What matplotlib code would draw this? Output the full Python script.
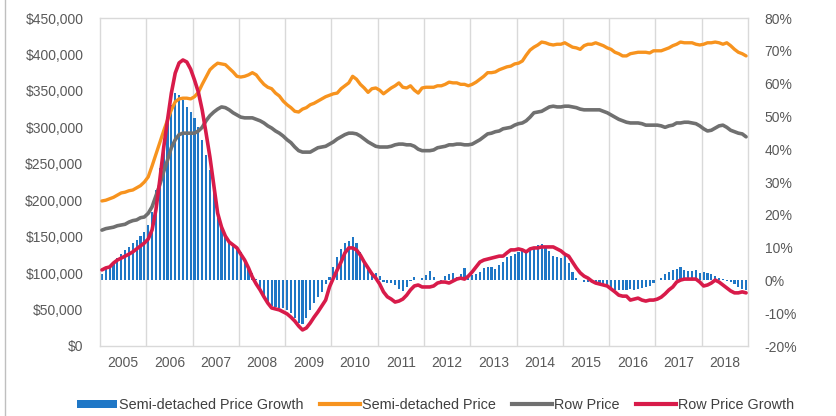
import matplotlib
matplotlib.use("Agg")
import matplotlib.pyplot as plt
from matplotlib.ticker import FuncFormatter, FixedLocator
from matplotlib.lines import Line2D
from matplotlib.patches import Patch

plt.rcParams['font.family'] = ['Liberation Sans', 'DejaVu Sans']

years = ['2005', '2006', '2007', '2008', '2009', '2010', '2011',
         '2012', '2013', '2014', '2015', '2016', '2017', '2018']

# Semi-detached price (thousands of $), monthly
semi_price_k = [
    199, 200, 202, 204, 207, 210, 211, 213, 214, 217, 220, 225,
    232, 247, 263, 279, 295, 310, 324, 335, 339, 340, 340, 339,
    342, 348, 359, 369, 379, 384, 388, 387, 386, 381, 376, 370,
    369, 370, 372, 375, 372, 365, 359, 355, 353, 347, 343, 336,
    331, 327, 322, 321, 325, 327, 331, 333, 336, 339, 342, 344,
    346, 347, 353, 357, 361, 370, 366, 359, 354, 348, 353, 354,
    351, 346, 350, 354, 357, 361, 355, 354, 357, 351, 347, 354,
    355, 355, 355, 357, 357, 359, 362, 361, 361, 359, 359, 357,
    359, 362, 366, 370, 375, 375, 376, 379, 381, 383, 384, 387,
    388, 391, 399, 406, 410, 413, 417, 416, 414, 413, 414, 414,
    416, 413, 410, 409, 407, 412, 414, 414, 416, 414, 412, 409,
    407, 403, 401, 398, 398, 401, 402, 403, 403, 403, 402, 405,
    405, 405, 407, 409, 412, 414, 417, 416, 416, 416, 414, 413,
    414, 416, 416, 417, 416, 414, 416, 412, 407, 403, 401, 398,
]

# Row price (thousands of $), monthly
row_price_k = [
    159, 161, 162, 163, 165, 166, 167, 170, 172, 173, 176, 177,
    182, 191, 206, 221, 239, 255, 272, 283, 290, 292, 292, 292,
    292, 295, 300, 309, 316, 321, 325, 328, 327, 324, 320, 317,
    314, 313, 313, 313, 311, 309, 306, 302, 299, 295, 292, 288,
    283, 279, 273, 268, 266, 266, 266, 269, 272, 273, 274, 277,
    280, 284, 287, 290, 292, 292, 291, 288, 284, 280, 277, 274,
    273, 273, 273, 274, 276, 277, 277, 276, 276, 274, 270, 268,
    268, 268, 269, 272, 273, 274, 276, 276, 277, 277, 276, 276,
    277, 280, 283, 287, 291, 292, 294, 295, 298, 299, 300, 303,
    305, 306, 309, 314, 320, 321, 322, 325, 328, 329, 328, 328,
    329, 329, 328, 327, 325, 324, 324, 324, 324, 324, 322, 320,
    317, 314, 311, 309, 307, 306, 306, 306, 305, 303, 303, 303,
    303, 302, 300, 302, 303, 306, 306, 307, 307, 306, 305, 302,
    298, 295, 296, 299, 302, 303, 300, 296, 294, 292, 291, 287,
]

# Row price growth (%), monthly
row_growth = [
    3.2, 3.8, 4.1, 5.3, 6.2, 6.8, 7.4, 8.0, 8.7, 9.6, 10.5, 11.4,
    12.6, 15.4, 21.5, 30.6, 40.4, 48.9, 57.1, 63.2, 66.3, 67.2, 66.6, 64.4,
    61.1, 57.4, 51.9, 44.9, 37.6, 29.1, 20.5, 16.3, 13.5, 11.7, 10.8, 9.9,
    8.0, 6.2, 3.8, 1.0, -1.1, -2.9, -5.0, -6.9, -8.4, -8.7, -9.0, -9.6,
    -10.2, -11.2, -12.4, -13.9, -15.1, -14.5, -13.0, -11.2, -9.6, -7.8, -6.0, -2.0,
    0.7, 3.2, 5.6, 8.4, 9.9, 9.9, 9.3, 7.7, 5.6, 3.8, 2.0, 0.7,
    -1.1, -3.5, -5.0, -5.7, -6.6, -6.3, -5.7, -4.5, -2.9, -1.7, -1.4, -2.0,
    -2.0, -2.0, -1.7, -0.8, -0.5, -0.5, -0.8, -0.2, 0.4, 0.7, 0.4, 1.3,
    2.6, 4.1, 5.6, 6.2, 6.5, 6.8, 7.1, 7.4, 7.4, 8.4, 9.3, 9.3,
    9.6, 9.3, 8.7, 9.6, 9.9, 9.9, 10.2, 10.2, 10.2, 10.2, 9.6, 9.0,
    8.0, 7.4, 5.6, 3.8, 2.3, 1.3, 0.7, -0.2, -0.8, -1.1, -1.4, -1.7,
    -2.6, -3.5, -4.5, -4.8, -4.8, -6.0, -5.7, -5.4, -6.0, -6.3, -6.0, -6.0,
    -5.7, -5.1, -4.1, -2.9, -2.0, -0.5, 0.1, 0.4, 0.4, 0.4, 0.4, -0.5,
    -1.7, -1.4, -0.8, 0.1, -0.5, -1.4, -2.3, -3.2, -3.8, -3.8, -3.5, -3.8,
]

# Semi-detached price growth (%), monthly
semi_growth = [
    2.0, 3.8, 4.7, 5.6, 6.8, 8.0, 9.3, 10.2, 11.4, 12.3, 13.5, 14.8,
    16.9, 20.9, 27.6, 34.3, 41.3, 48.3, 53.5, 57.1, 56.5, 55.0, 52.9, 51.3,
    49.5, 46.8, 42.8, 38.2, 33.7, 27.6, 19.0, 16.0, 13.8, 12.3, 11.1, 10.2,
    8.7, 6.2, 4.1, 2.3, 0.4, -2.9, -5.4, -7.5, -7.8, -8.1, -8.4, -8.4,
    -9.0, -9.9, -11.5, -13.0, -13.3, -11.5, -9.0, -6.9, -5.1, -3.5, -1.1, 1.0,
    4.1, 7.1, 9.6, 11.4, 12.0, 13.2, 11.4, 8.7, 5.6, 3.2, 2.6, 2.3,
    1.3, -0.5, -0.8, -0.8, -1.4, -2.6, -3.2, -2.0, -0.2, 1.0, 0.1, 0.7,
    1.6, 2.9, 1.0, 0.1, -0.5, 1.3, 2.0, 2.3, 1.0, 2.0, 3.8, 1.3,
    1.6, 2.0, 2.6, 3.8, 4.1, 4.1, 3.5, 4.7, 5.6, 7.1, 7.4, 8.0,
    8.7, 9.3, 8.7, 9.6, 10.2, 10.8, 11.1, 10.5, 9.0, 7.4, 7.1, 6.8,
    7.4, 5.3, 2.6, 0.7, 0.1, -0.5, -0.5, -0.5, -0.8, -0.8, -1.1, -1.7,
    -2.3, -2.9, -2.9, -2.9, -2.9, -2.6, -2.9, -2.6, -2.3, -2.0, -1.7, -0.8,
    0.1, 0.7, 2.0, 2.6, 3.2, 3.5, 4.1, 3.2, 2.9, 2.9, 3.2, 2.3,
    2.6, 2.3, 2.0, 1.3, 0.7, 0.4, -0.2, -0.5, -1.1, -2.0, -2.6, -2.9,
]

semi_price = [v * 1000 for v in semi_price_k]
row_price = [v * 1000 for v in row_price_k]
months = list(range(len(semi_price)))

C_BLUE = '#1f77c6'
C_ORANGE = '#f7931e'
C_GRAY = '#707070'
C_RED = '#d81b4a'
C_TEXT = '#595959'
C_GRID = '#d9d9d9'

fig = plt.figure(figsize=(8.36, 4.16), dpi=100)
rect = [100 / 836, 1 - 346 / 416, 648 / 836, 328 / 416]

axb = fig.add_axes(rect)                     # bars (right % axis)
axp = fig.add_axes(rect, sharex=axb)         # prices (left axis)
axr = fig.add_axes(rect, sharex=axb, sharey=axb)  # red growth line

axb.set_zorder(1)
axp.set_zorder(2)
axr.set_zorder(3)
axp.patch.set_visible(False)
axr.patch.set_visible(False)

axb.bar(months, semi_growth, width=0.55, color=C_BLUE, linewidth=0)
axp.plot(months, semi_price, color=C_ORANGE, lw=2.4, solid_capstyle='round')
axp.plot(months, row_price, color=C_GRAY, lw=2.6, solid_capstyle='round')
axr.plot(months, row_growth, color=C_RED, lw=2.6, solid_capstyle='round')

n = len(months)
axb.set_xlim(-0.5, n - 0.5)
axb.set_ylim(-20, 80)
axp.set_ylim(0, 450000)

# year gridlines
for k in range(1, len(years)):
    axb.axvline(12 * k - 0.5, color=C_GRID, lw=1, zorder=0)

axb.xaxis.set_major_locator(FixedLocator([12 * k + 5.5 for k in range(len(years))]))
axb.set_xticklabels(years)
axb.yaxis.tick_right()
axb.set_yticks(range(-20, 81, 10))
axb.yaxis.set_major_formatter(FuncFormatter(lambda v, p: f"{int(v)}%"))
axp.set_yticks(range(0, 450001, 50000))
axp.yaxis.set_major_formatter(FuncFormatter(lambda v, p: f"${int(v):,}"))

for a in (axb, axp):
    a.tick_params(axis='both', length=0, labelsize=10, labelcolor=C_TEXT)
axb.tick_params(axis='y', pad=12)
axp.tick_params(axis='y', pad=12)
axb.tick_params(axis='x', pad=7)
axp.tick_params(axis='x', labelbottom=False)
axr.tick_params(left=False, right=False, bottom=False, labelleft=False,
                labelbottom=False, labelright=False)

for a in (axb, axp, axr):
    for s in a.spines.values():
        s.set_visible(False)
for s in axb.spines.values():
    s.set_visible(True)
    s.set_color(C_GRID)
    s.set_linewidth(1)

handles = [
    Patch(facecolor=C_BLUE, edgecolor='none'),
    Line2D([], [], color=C_ORANGE, lw=3),
    Line2D([], [], color=C_GRAY, lw=3),
    Line2D([], [], color=C_RED, lw=3),
]
labels = ['Semi-detached Price Growth', 'Semi-detached Price', 'Row Price', 'Row Price Growth']
leg = fig.legend(handles, labels, loc='center', bbox_to_anchor=(435.5 / 836, 1 - 405 / 416),
                 ncol=4, frameon=False, fontsize=10.4, handlelength=2.75,
                 handleheight=0.5, handletextpad=0.15, columnspacing=1.15,
                 borderpad=0, borderaxespad=0)
for t in leg.get_texts():
    t.set_color('#404040')

# outer chart border remnant on the left
fig.add_artist(Line2D([5 / 836, 5 / 836], [0, 1], transform=fig.transFigure,
                      color='#bfbfbf', lw=1))

fig.savefig('out.png', dpi=100)
